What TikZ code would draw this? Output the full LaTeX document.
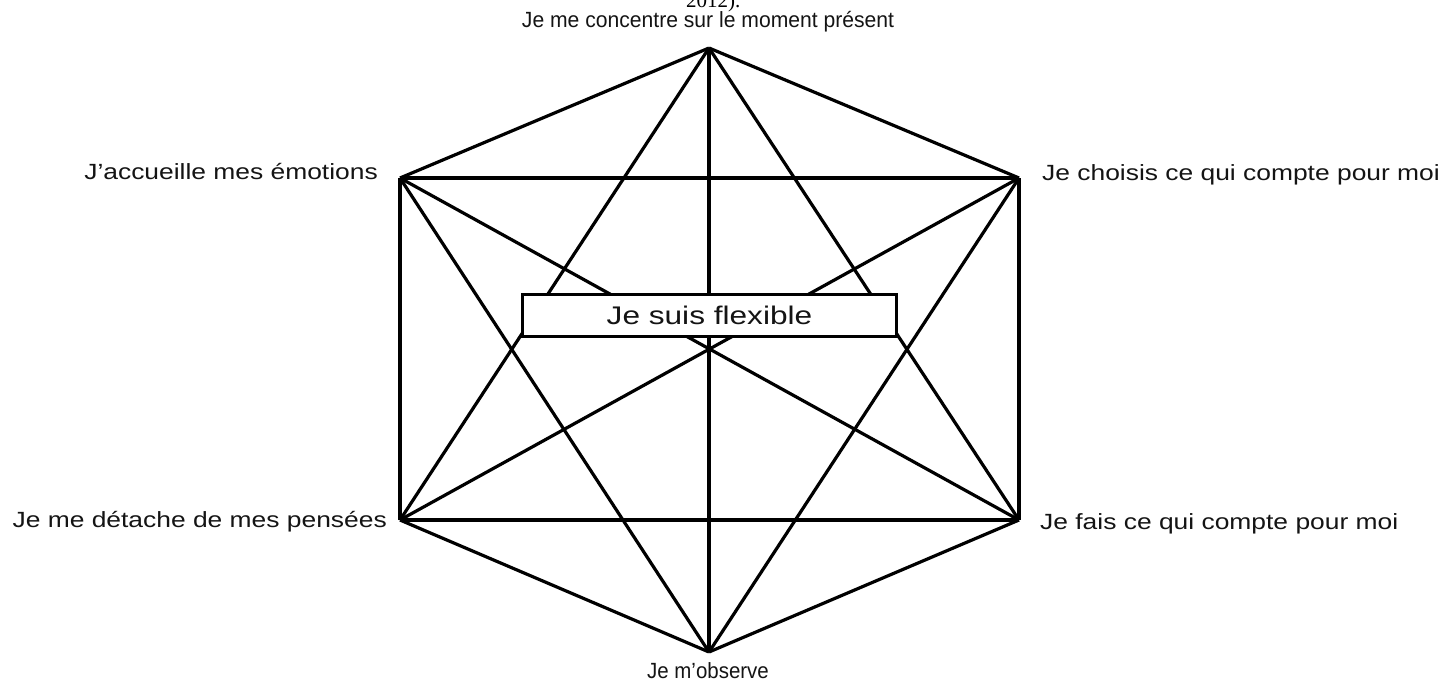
\documentclass[tikz,border=0pt]{standalone}
\usepackage{fontspec}
\usepackage{graphicx}
\setmainfont{Liberation Sans}
\newfontfamily\seriffam{Liberation Serif}
\begin{document}
\begin{tikzpicture}[x=1pt,y=-1pt,
  edge/.style={line width=3.2pt, black},
  lbl/.style={inner sep=0pt, font=\fontsize{22}{26}\selectfont, text=black!92},
  centerbox/.style={draw=black, line width=3.2pt, fill=white, inner sep=0pt,
    minimum width=374pt, minimum height=42pt,
    font=\fontsize{25.5}{30}\selectfont, text=black!92}]
\useasboundingbox (0,0) rectangle (1442,683);
\coordinate (T)  at (709,48);
\coordinate (UL) at (400,178);
\coordinate (UR) at (1019,178);
\coordinate (LL) at (400,520);
\coordinate (LR) at (1019,520);
\coordinate (B)  at (709,652);
% hexagon edges
\draw[edge] (T) -- (UR);
\draw[edge] (UR) -- (LR);
\draw[edge] (LR) -- (B);
\draw[edge] (B) -- (LL);
\draw[edge] (LL) -- (UL);
\draw[edge] (UL) -- (T);
% diagonals
\draw[edge] (T) -- (B);
\draw[edge] (T) -- (LL);
\draw[edge] (T) -- (LR);
\draw[edge] (UL) -- (UR);
\draw[edge] (UL) -- (LR);
\draw[edge] (UL) -- (B);
\draw[edge] (UR) -- (LL);
\draw[edge] (UR) -- (B);
\draw[edge] (LL) -- (LR);
% centre box
\node[centerbox] (flex) at (709.5,315.5) {\scalebox{1.24}[1]{Je suis flexible}};
% labels
\node[lbl, anchor=base] (lt) at (708,27) {\scalebox{0.96}[1]{Je me concentre sur le moment présent}};
\node[lbl, anchor=base east] (lul) at (378,179) {\scalebox{1.2}[1]{J’accueille mes émotions}};
\node[lbl, anchor=base west] (lur) at (1042,180) {\scalebox{1.2}[1]{Je choisis ce qui compte pour moi}};
\node[lbl, anchor=base east] (lll) at (387,527) {\scalebox{1.2}[1]{Je me détache de mes pensées}};
\node[lbl, anchor=base west] (llr) at (1040,529) {\scalebox{1.2}[1]{Je fais ce qui compte pour moi}};
\node[lbl, anchor=base] (lb) at (708,678) {\scalebox{0.93}[1]{Je m’observe}};
\node[inner sep=0pt, anchor=base west, font=\seriffam\fontsize{21}{25}\selectfont] (yr) at (686,7) {2012).};
\end{tikzpicture}
\end{document}
